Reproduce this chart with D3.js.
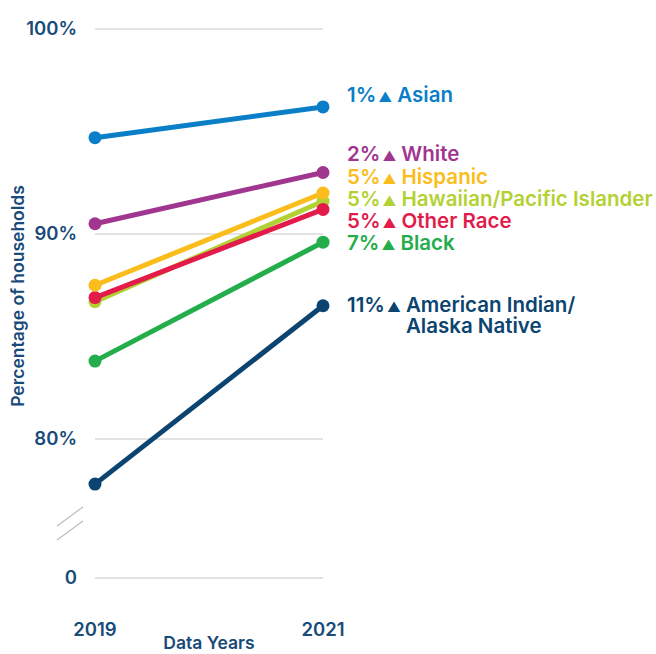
<!DOCTYPE html>
<html>
<head>
<meta charset="utf-8">
<script src="https://cdn.jsdelivr.net/npm/d3@7"></script>
<style>
  body { margin: 0; background: #fff; }
  svg text { font-family: Inter, "Open Sans", sans-serif; font-weight: 600; }
</style>
</head>
<body>
<div id="chart"></div>
<script>
// Data
const years = ['2019', '2021'];
const groups = ['Asian', 'White', 'Hispanic', 'Hawaiian/Pacific Islander', 'Other Race', 'Black', 'American Indian/\nAlaska Native'];
const values2019 = [94.7, 90.5, 87.5, 86.7, 86.9, 83.8, 77.8];
const values2021 = [96.2, 93.0, 92.0, 91.6, 91.2, 89.6, 86.5];
const changes = ['1%', '2%', '5%', '5%', '5%', '7%', '11%'];
const colors = ['#0a7fc7', '#a0368f', '#fbbd1c', '#b2d234', '#e31b4b', '#23ad4b', '#0b4470'];
const yTicks = [0, 80, 90, 100];
const yTickLabels = ['0', '80%', '90%', '100%'];

// label vertical positions (layout)
const labelY = [95, 154, 177, 199, 221, 243, 305];
const drawOrder = [6, 5, 3, 4, 2, 1, 0];

const config = {
    width: 656,
    height: 654,
    left: 95,
    right: 323,
    axisColor: '#184b79'
};

const svg = d3.select('#chart').append('svg')
    .attr('width', config.width)
    .attr('height', config.height);

const x = d3.scalePoint().domain(years).range([config.left, config.right]);
// broken axis: 0 sits below the 75-100 range
const y = d3.scaleLinear().domain([0, 75, 100]).range([578, 541.5, 29]);

// gridlines
svg.append('g').selectAll('line').data(yTicks).join('line')
    .attr('x1', config.left).attr('x2', config.right)
    .attr('y1', d => y(d)).attr('y2', d => y(d))
    .attr('stroke', '#c8c8c8').attr('stroke-width', 1.2);

svg.append('g').selectAll('text').data(yTicks).join('text')
    .attr('x', 77).attr('y', d => y(d))
    .attr('dy', '0.35em')
    .attr('text-anchor', 'end')
    .attr('fill', config.axisColor)
    .attr('font-size', 18.5)
    .attr('font-weight', 500)
    .text((d, i) => yTickLabels[i]);

// axis break marks
svg.append('g').selectAll('line').data([0, 14]).join('line')
    .attr('x1', 57).attr('y1', d => 526 + d)
    .attr('x2', 83).attr('y2', d => 507 + d)
    .attr('stroke', '#bdbdbd').attr('stroke-width', 1.2);

// x labels
svg.append('g').selectAll('text').data(years).join('text')
    .attr('x', d => x(d)).attr('y', 636)
    .attr('text-anchor', 'middle')
    .attr('fill', config.axisColor)
    .attr('font-size', 18.5)
    .attr('font-weight', 700)
    .text(d => d);

svg.append('text')
    .attr('x', (config.left + config.right) / 2).attr('y', 649)
    .attr('text-anchor', 'middle')
    .attr('fill', config.axisColor)
    .attr('font-size', 17.5)
    .attr('font-weight', 700)
    .text('Data Years');

svg.append('text')
    .attr('transform', 'translate(24,296) rotate(-90)')
    .attr('text-anchor', 'middle')
    .attr('fill', config.axisColor)
    .attr('font-size', 17.5)
    .attr('font-weight', 700)
    .text('Percentage of households');

// lines
const series = drawOrder.map(i => ({
    i: i,
    pts: [{year: years[0], v: values2019[i]}, {year: years[1], v: values2021[i]}]
}));

const line = d3.line().x(d => x(d.year)).y(d => y(d.v));

const g = svg.append('g').selectAll('g').data(series).join('g');
g.append('path')
    .attr('d', d => line(d.pts))
    .attr('fill', 'none')
    .attr('stroke', d => colors[d.i])
    .attr('stroke-width', 5);
g.selectAll('circle').data(d => d.pts.map(p => ({...p, i: d.i}))).join('circle')
    .attr('cx', d => x(d.year)).attr('cy', d => y(d.v))
    .attr('r', 6.5)
    .attr('fill', d => colors[d.i]);

// right-hand labels
const labelG = svg.append('g');
groups.forEach((d, i) => {
    const parts = d.split('\n');
    const t = labelG.append('text')
        .attr('x', 347)
        .attr('y', labelY[i])
        .attr('dy', '0.35em')
        .attr('fill', colors[i])
        .attr('font-size', 20.5)
        .attr('font-weight', 700);
    t.append('tspan').text(changes[i]);
    t.append('tspan').attr('font-size', 13.5).attr('dx', 2).text('\u25B2');
    const name = t.append('tspan').attr('dx', 5).text(parts[0]);
    if (parts.length > 1) {
        // second line aligned with start of name
        const startX = name.node().getStartPositionOfChar(0).x;
        labelG.append('text')
            .attr('x', startX)
            .attr('y', labelY[i] + 21)
            .attr('dy', '0.35em')
            .attr('fill', colors[i])
            .attr('font-size', 20.5)
            .attr('font-weight', 700)
            .text(parts[1]);
    }
});
</script>
</body>
</html>
